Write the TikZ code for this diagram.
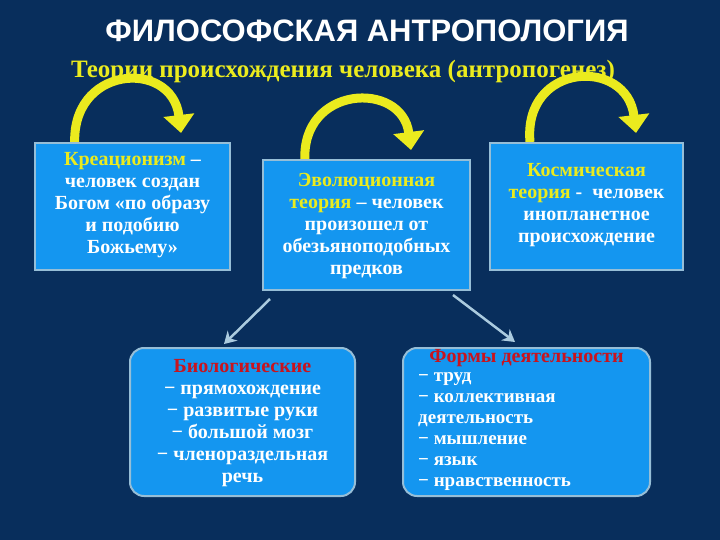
\documentclass[tikz,border=0pt]{standalone}
\usepackage{fontspec}
\setmainfont{Liberation Serif}
\newfontfamily\tsans{Liberation Sans}
\usetikzlibrary{arrows.meta}
\definecolor{bg}{RGB}{8,46,92}
\definecolor{boxc}{RGB}{20,150,240}
\definecolor{edgec}{RGB}{150,190,215}
\definecolor{yel}{RGB}{235,235,30}
\definecolor{redt}{RGB}{200,20,30}
\tikzset{
 tbox/.style={draw=edgec,line width=2pt,fill=boxc,inner sep=2pt},
 rbox/.style={tbox,rounded corners=14pt},
 btxt/.style={text=white,font=\bfseries\fontsize{20}{22}\selectfont,align=center,anchor=north},
 yarc/.style={draw=yel,line width=9pt,-{Triangle[length=18pt,width=30pt]}},
 barr/.style={draw=edgec!80!white,line width=2.5pt,-{Stealth[length=12pt,width=14pt]}}
}
\begin{document}
\begin{tikzpicture}[x=1pt,y=-1pt]
\fill[bg] (0,0) rectangle (720,540);
\useasboundingbox (0,0) rectangle (720,540);
\node[text=white,font=\tsans\bfseries\fontsize{31}{34}\selectfont] (title) at (367,31) {ФИЛОСОФСКАЯ АНТРОПОЛОГИЯ};
\node[text=yel,font=\bfseries\fontsize{25}{27}\selectfont] (sub) at (343,71) {Теории происхождения человека (антропогенез)};
\draw[yarc] (75,148) .. controls (68,65) and (172,58) .. (181,133);
\draw[yarc] (305,162) .. controls (300,85) and (402,80) .. (411,150);
\draw[yarc] (530,142) .. controls (523,62) and (627,57) .. (636,133);
\node[tbox,minimum width=195pt,minimum height=127pt] (a) at (132.5,206.5) {};
\node[btxt] (at) at (132.5,149) {{\color{yel}Креационизм} –\\человек создан\\Богом «по образу\\и подобию\\Божьему»};
\node[tbox,minimum width=207pt,minimum height=130pt] (b) at (366.5,225) {};
\node[btxt] (bt) at (366.5,170) {{\color{yel}Эволюционная}\\{\color{yel}теория} – человек\\произошел от\\обезьяноподобных\\предков};
\node[tbox,minimum width=193pt,minimum height=127pt] (c) at (586.5,206.5) {};
\node[btxt] (ct) at (586.5,160) {{\color{yel}Космическая}\\{\color{yel}теория} -\ \ человек\\инопланетное\\происхождение};
\node[rbox,minimum width=225pt,minimum height=148pt] (d) at (242.5,422) {};
\node[btxt] (dt) at (242.5,356) {{\color{redt}Биологические}\\− прямохождение\\− развитые руки\\− большой мозг\\− членораздельная\\речь};
\node[rbox,minimum width=247pt,minimum height=148pt] (e) at (526.5,422) {};
\node[text=redt,font=\bfseries\fontsize{20}{22}\selectfont,anchor=north] (et) at (526.5,346) {Формы деятельности};
\node[text=white,font=\bfseries\fontsize{19}{21}\selectfont,align=left,anchor=north west,inner sep=0pt] (el) at (418,372) {− труд\\− коллективная\\деятельность\\− мышление\\− язык\\− нравственность};
\draw[barr] (b.south west) ++(8,8) coordinate (b1) -- (224,344) coordinate (d1);
\draw[barr] (b.south east) ++(-18,4) coordinate (b2) -- (515,342) coordinate (e1);
\end{tikzpicture}
\end{document}
